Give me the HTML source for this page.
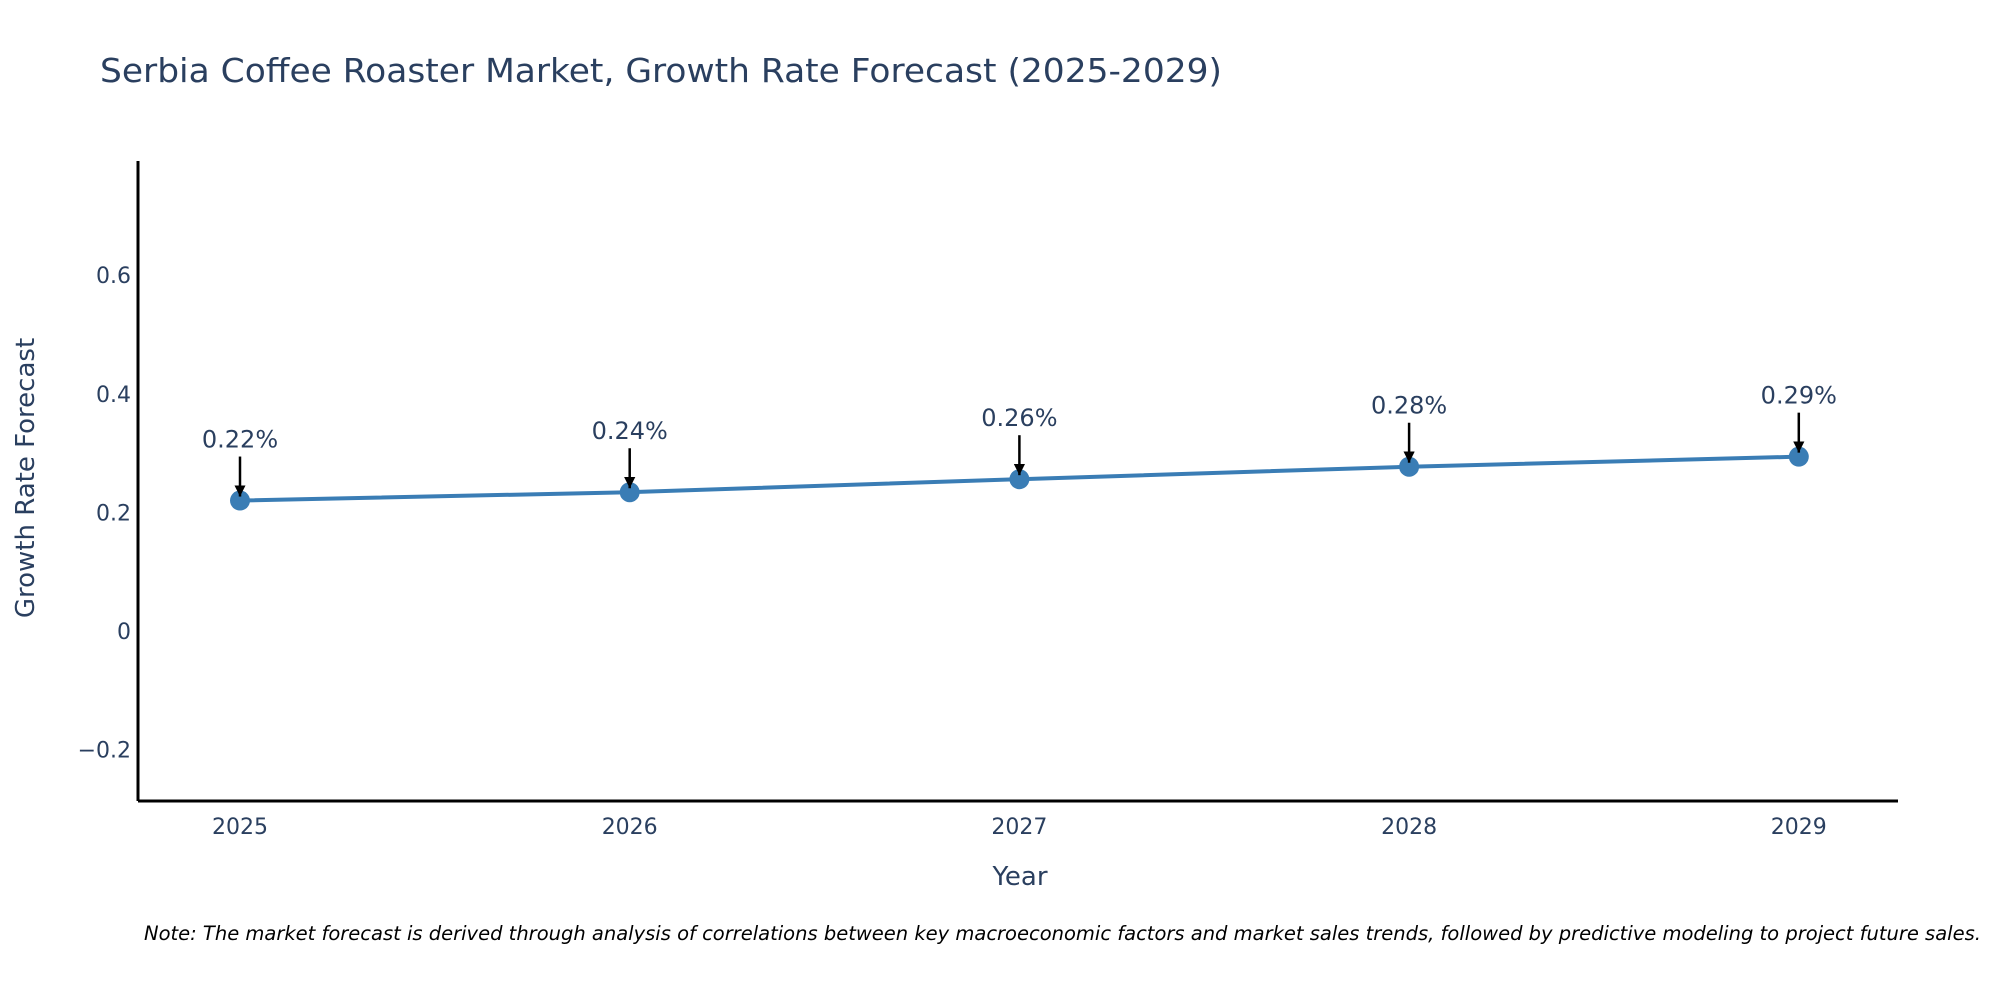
<!DOCTYPE html>
<html><head><meta charset="utf-8"><style>
html,body{margin:0;padding:0;background:#fff;}
svg{display:block;font-family:"DejaVu Sans","Liberation Sans",sans-serif;}
</style></head><body>
<svg id="chart" width="2000" height="1000" viewBox="0 0 2000 1000">
<defs><marker id="ah" viewBox="0 0 10 10" refX="10" refY="5" markerWidth="4.5" markerHeight="4.5" orient="auto"><path d="M0,0 L10,5 L0,10 z" fill="#000"/></marker></defs>
<text x="100" y="82" font-size="33" fill="#2a3f5f" textLength="1122" lengthAdjust="spacingAndGlyphs">Serbia Coffee Roaster Market, Growth Rate Forecast (2025-2029)</text>
<g id="yticks"></g>
<g id="xticks"></g>
<g id="series"></g>
<line x1="138" y1="161" x2="138" y2="801" stroke="#000" stroke-width="3"/>
<line x1="138" y1="801" x2="1898" y2="801" stroke="#000" stroke-width="3"/>
<text x="1020" y="885" font-size="26" fill="#2a3f5f" text-anchor="middle">Year</text>
<text transform="translate(34,478) rotate(-90)" font-size="26" fill="#2a3f5f" text-anchor="middle">Growth Rate Forecast</text>
<text x="144" y="940" font-size="19.5" font-style="italic" fill="#000">Note: The market forecast is derived through analysis of correlations between key macroeconomic factors and market sales trends, followed by predictive modeling to project future sales.</text>
</svg>
<script>
const years = ["2025","2026","2027","2028","2029"];
const values = [0.22, 0.234, 0.256, 0.277, 0.294];
const labels = ["0.22%","0.24%","0.26%","0.28%","0.29%"];
const yTicks = [-0.2, 0, 0.2, 0.4, 0.6];
const yTickLabels = ["\u22120.2","0","0.2","0.4","0.6"];
const NS="http://www.w3.org/2000/svg";
function yScale(v){return 631 - v*593;}
function xScale(i){return 240 + i*389.7;}
function mk(tag,attrs,parent,txt){const e=document.createElementNS(NS,tag);for(const k in attrs)e.setAttribute(k,attrs[k]);if(txt!==undefined)e.textContent=txt;parent.appendChild(e);return e;}
const yg=document.getElementById('yticks');
yTicks.forEach((t,i)=>{
  const e=mk('text',{x:131,y:yScale(t)+8,'font-size':22,fill:'#2a3f5f','text-anchor':'end'},yg,yTickLabels[i]);
  
  
});
const xg=document.getElementById('xticks');
years.forEach((y,i)=>{
  const e=mk('text',{x:xScale(i),y:834,'font-size':22,fill:'#2a3f5f','text-anchor':'middle'},xg,y);
  
  
});
const sg=document.getElementById('series');
const pts=values.map((v,i)=>xScale(i)+','+yScale(v)).join(' ');
const line=mk('polyline',{points:pts,fill:'none',stroke:'#3a7db5','stroke-width':4},sg);


values.forEach((v,i)=>{
  const cx=xScale(i), cy=yScale(v);
  const c=mk('circle',{cx:cx,cy:cy,r:10,fill:'#3a7db5'},sg);
  
  
  const a=mk('line',{x1:cx,y1:cy-44,x2:cx,y2:cy-4,stroke:'#000','stroke-width':2.5,'marker-end':'url(#ah)'},sg);
  
  
  const t=mk('text',{x:cx,y:cy-53,'font-size':24,fill:'#2a3f5f','text-anchor':'middle'},sg,labels[i]);
  
  
});
</script>
</body></html>
